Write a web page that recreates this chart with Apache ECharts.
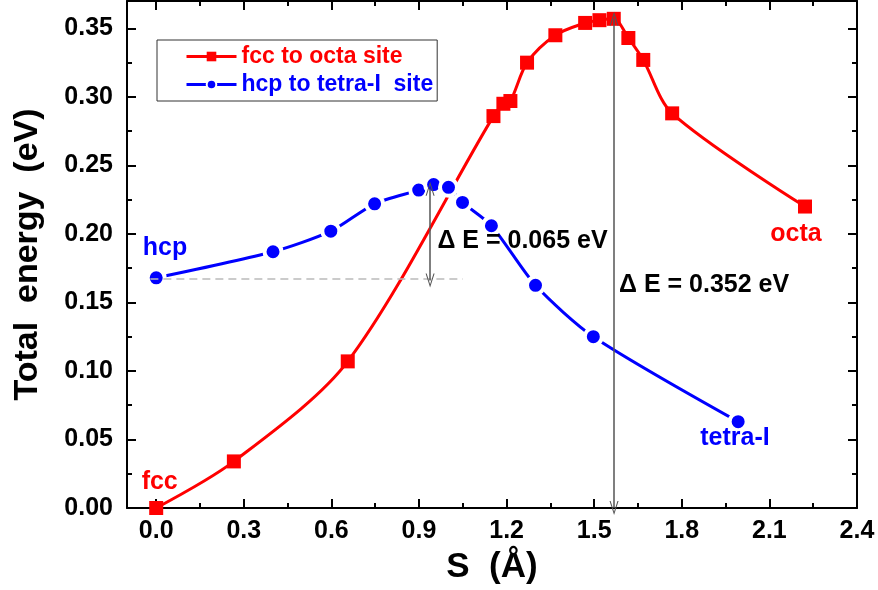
<!DOCTYPE html>
<html>
<head>
<meta charset="utf-8">
<script src="https://cdn.jsdelivr.net/npm/echarts@6/dist/echarts.min.js"></script>
<style>html,body{margin:0;padding:0;background:#fff;}#c{width:878px;height:590px;}</style>
</head>
<body>
<div id="c"></div>
<script>
// ---- data ----
var fccS = [0.00, 0.266, 0.656, 1.155, 1.189, 1.213, 1.270, 1.367, 1.469, 1.518, 1.567, 1.617, 1.668, 1.767, 2.222];
var fccE = [0.000, 0.034, 0.107, 0.286, 0.295, 0.297, 0.325, 0.345, 0.354, 0.356, 0.357, 0.343, 0.327, 0.288, 0.220];
var hcpS = [0.00, 0.40, 0.598, 0.748, 0.899, 0.950, 1.001, 1.049, 1.148, 1.299, 1.497, 1.993];
var hcpE = [0.168, 0.187, 0.202, 0.222, 0.232, 0.236, 0.234, 0.223, 0.206, 0.1625, 0.125, 0.063];
var xTicks = [0.0, 0.3, 0.6, 0.9, 1.2, 1.5, 1.8, 2.1, 2.4];
var xMinor = [0.15, 0.45, 0.75, 1.05, 1.35, 1.65, 1.95, 2.25];
var yTicks = [0.00, 0.05, 0.10, 0.15, 0.20, 0.25, 0.30, 0.35];
var yMinor = [0.025, 0.075, 0.125, 0.175, 0.225, 0.275, 0.325];
var seriesNames = ['fcc to octa site', 'hcp to tetra-I  site'];

var FONT = '"Liberation Sans", Arial, sans-serif';
var RED = '#ff0000', BLUE = '#0000ff';

function pairs(xs, ys) { return xs.map(function (x, i) { return [x, ys[i]]; }); }

var chart = echarts.init(document.getElementById('c'), null, {renderer: 'canvas'});

function xAx(pos, vals, len, showLine, showLabel) {
  return {
    type: 'value', position: pos, min: -0.1, max: 2.4,
    axisLine: {show: showLine, onZero: false, lineStyle: {color: '#000', width: 2}},
    axisTick: {show: true, inside: true, length: len, customValues: vals, lineStyle: {color: '#000', width: 2}},
    axisLabel: showLabel ? {show: true, customValues: vals, margin: 11, color: '#000', fontFamily: FONT, fontWeight: 'bold', fontSize: 25,
      formatter: function (v) { return v.toFixed(1); }} : {show: false},
    splitLine: {show: false}
  };
}
function yAx(pos, vals, len, showLine, showLabel) {
  return {
    type: 'value', position: pos, min: 0, max: 0.37,
    axisLine: {show: showLine, onZero: false, lineStyle: {color: '#000', width: 2}},
    axisTick: {show: true, inside: true, length: len, customValues: vals, lineStyle: {color: '#000', width: 2}},
    axisLabel: showLabel ? {show: true, customValues: vals, margin: 14, color: '#000', fontFamily: FONT, fontWeight: 'bold', fontSize: 25,
      formatter: function (v) { return v.toFixed(2); }} : {show: false},
    splitLine: {show: false}
  };
}

var xAxes = [xAx('bottom', xTicks, 9, true, true), xAx('bottom', xMinor, 5, false, false),
             xAx('top', xTicks, 9, true, false), xAx('top', xMinor, 5, false, false)];
xAxes[0].name = 'S  (Å)';
xAxes[0].nameLocation = 'middle';
xAxes[0].nameGap = 42;
xAxes[0].nameTextStyle = {fontFamily: FONT, fontWeight: 'bold', fontSize: 35, color: '#000'};

var yAxes = [yAx('left', yTicks, 9, true, true), yAx('left', yMinor, 5, false, false),
             yAx('right', yTicks, 9, true, false), yAx('right', yMinor, 5, false, false)];
yAxes[0].name = 'Total  energy  (eV)';
yAxes[0].nameLocation = 'middle';
yAxes[0].nameGap = 82;
yAxes[0].nameTextStyle = {fontFamily: FONT, fontWeight: 'bold', fontSize: 34, color: '#000'};

var chevron = 'path://M5,0 L10,14 L8.8,14 L5,3.2 L1.2,14 L0,14 Z';

function textPt(x, y, text, color, align) {
  return {value: [x, y], label: {show: true, position: 'inside', formatter: text, color: color, align: align || 'center',
    opacity: 1, textBorderWidth: 0, fontFamily: FONT, fontWeight: 'bold', fontSize: 25}};
}

var option = {
  animation: false,
  backgroundColor: '#fff',
  grid: {left: 127, right: 21, top: 1, bottom: 82, containLabel: false},
  xAxis: xAxes,
  yAxis: yAxes,
  legend: {
    data: [{name: seriesNames[0], textStyle: {color: RED}}, {name: seriesNames[1], textStyle: {color: BLUE}}],
    orient: 'vertical', left: 157, top: 40,
    padding: [5, 4, 5, 28], itemGap: 5, itemWidth: 50, itemHeight: 12,
    borderColor: '#333', borderWidth: 1,
    lineStyle: {width: 3},
    textStyle: {fontFamily: FONT, fontWeight: 'bold', fontSize: 23}
  },
  series: [
    {
      name: 'guides', type: 'line', data: [], silent: true,
      markLine: {
        silent: true, animation: false, label: {show: false},
        data: [
          [{coord: [-0.02, 0.167], symbol: 'none'}, {coord: [1.05, 0.167], symbol: 'none',
            lineStyle: {type: [8, 5], color: '#bbbbbb', width: 1.5}}],
          [{coord: [0.938, 0.166], symbol: chevron, symbolSize: [9, 14]}, {coord: [0.938, 0.233], symbol: chevron, symbolSize: [9, 14],
            lineStyle: {type: 'solid', color: '#555', width: 1.5}}],
          [{coord: [1.568, 0.0], symbol: chevron, symbolSize: [9, 14]}, {coord: [1.568, 0.357], symbol: chevron, symbolSize: [9, 14],
            lineStyle: {type: 'solid', color: '#555', width: 1.5}}]
        ],
        lineStyle: {type: 'solid', color: '#555', width: 1.5}
      }
    },
    {
      name: seriesNames[0], type: 'line', data: pairs(fccS, fccE), smooth: 0.3,
      symbol: 'rect', symbolSize: 14,
      lineStyle: {color: RED, width: 3}, itemStyle: {color: RED}, z: 3
    },
    {
      name: seriesNames[1], type: 'line', data: pairs(hcpS, hcpE), smooth: 0.25,
      symbol: 'circle', symbolSize: 17,
      lineStyle: {color: BLUE, width: 3}, itemStyle: {color: BLUE, borderColor: '#fff', borderWidth: 4}, z: 4
    },
    {
      name: 'labels', type: 'scatter', symbolSize: 0, itemStyle: {color: '#fff', opacity: 1}, silent: true, z: 6,
      emphasis: {disabled: true},
      data: [
        textPt(0.030, 0.190, 'hcp', BLUE),
        textPt(0.012, 0.019, 'fcc', RED),
        textPt(2.191, 0.200, 'octa', RED),
        textPt(1.982, 0.051, 'tetra-I', BLUE),
        textPt(0.963, 0.195, 'Δ E = 0.065 eV', '#000', 'left'),
        textPt(1.585, 0.163, 'Δ E = 0.352 eV', '#000', 'left')
      ]
    }
  ]
};
chart.setOption(option);
</script>
</body>
</html>
